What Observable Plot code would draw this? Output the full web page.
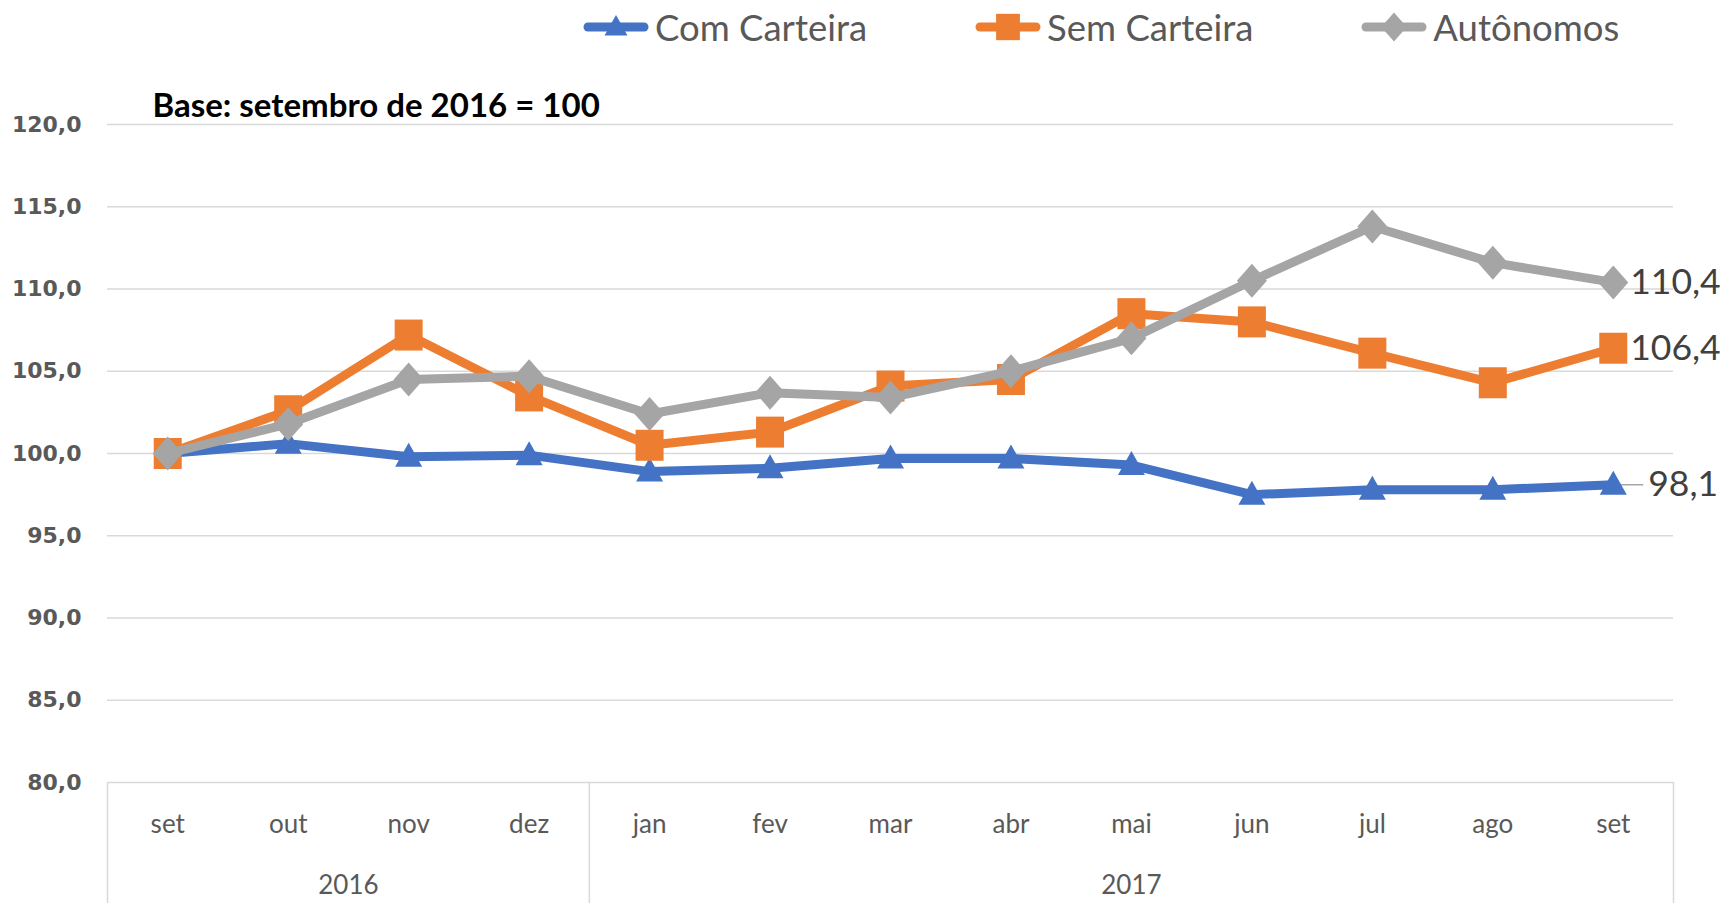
<!DOCTYPE html>
<html><head><meta charset="utf-8">
<script src="https://cdn.jsdelivr.net/npm/d3@7"></script>
<script src="https://cdn.jsdelivr.net/npm/@observablehq/plot@0.6"></script>
<style>
body{margin:0;background:#fff;font-family:Lato,sans-serif;}
#legend{height:54px;display:flex;align-items:center;gap:108px;padding-left:583px;box-sizing:border-box;}
.item{display:flex;align-items:center;gap:6px;font-size:36.5px;color:#595959;line-height:1;}
#chart svg{display:block;}
</style></head><body>
<div id="legend"></div>
<div id="chart"></div>
<script>
// ---- data ----
const months = ["set","out","nov","dez","jan","fev","mar","abr","mai","jun","jul","ago","set"];
const years  = ["2016","2016","2016","2016","2017","2017","2017","2017","2017","2017","2017","2017","2017"];
const seriesNames = ["Com Carteira","Sem Carteira","Autônomos"];
const comCarteira = [100.0,100.6,99.8,99.9,98.9,99.1,99.7,99.7,99.3,97.5,97.8,97.8,98.1];
const semCarteira = [100.0,102.6,107.2,103.5,100.5,101.3,104.1,104.5,108.5,108.0,106.1,104.3,106.4];
const autonomos   = [100.0,101.8,104.5,104.7,102.4,103.7,103.4,105.0,107.0,110.5,113.8,111.6,110.4];
const yTicks = [80,85,90,95,100,105,110,115,120];
const note = "Base: setembro de 2016 = 100";

// ---- styles ----
const seriesValues = [comCarteira, semCarteira, autonomos];
const colors = ["#4472C4","#ED7D31","#A5A5A5"];
const triangle = {draw(c){c.moveTo(0,-14);c.lineTo(13.5,10);c.lineTo(-13.5,10);c.closePath();}};
const square = {draw(c){c.rect(-14,-15.5,28,31);}};
const diamond = {draw(c){c.moveTo(0,-17);c.lineTo(15,0);c.lineTo(0,17);c.lineTo(-15,0);c.closePath();}};
const leader = {draw(c){c.moveTo(6,0);c.lineTo(30,0);}};
const symbols = [triangle, square, diamond];
const labelDx = [35, 17, 17];

const fmt = v => v.toFixed(1).replace(".", ",");

// legend
const legend = document.getElementById("legend");
seriesNames.forEach((name, k) => {
  const p = d3.path(); symbols[k].draw(p);
  const item = document.createElement("div");
  item.className = "item";
  item.innerHTML = `<svg width="66" height="36" viewBox="-33 -18 66 36"><line x1="-28" x2="28" y1="0" y2="0" stroke="${colors[k]}" stroke-width="9" stroke-linecap="round"/><path d="${p}" fill="${colors[k]}" transform="scale(0.85)"/></svg><span>${name}</span>`;
  legend.appendChild(item);
});

const data = seriesNames.flatMap((s, k) => seriesValues[k].map((v, i) => ({series: s, k, i, v})));
const n = months.length;

// year groups
const yearNames = [...new Set(years)];
const yearFirst = yearNames.map(y => years.indexOf(y));
const yearLast = yearNames.map(y => years.lastIndexOf(y));
const yearCenters = yearNames.map((y, j) => (yearFirst[j] + yearLast[j]) / 2);
const boundaries = [yearFirst[0] - 0.5, ...yearLast.map(l => l + 0.5)];

const marks = [
  Plot.gridY(yTicks, {stroke: "#d9d9d9", strokeOpacity: 1, strokeWidth: 1.5}),
  Plot.axisY(yTicks, {tickSize: 0, tickPadding: 26, tickFormat: fmt, fontSize: 22, fontWeight: "bold", fontFamily: "DejaVu Sans", fill: "#595959", label: null}),
  Plot.axisX(d3.range(n), {tickSize: 0, tickPadding: 32, tickFormat: i => months[i], fontSize: 26, fill: "#595959", label: null}),
  Plot.axisX(yearCenters, {tickSize: 0, tickPadding: 93, tickFormat: c => yearNames[yearCenters.indexOf(c)], fontSize: 26, fill: "#595959", label: null}),
  Plot.axisX(boundaries, {tickSize: 125, tickFormat: () => "", stroke: "#d9d9d9", strokeWidth: 1.5, label: null}),
  Plot.text([note], {frameAnchor: "top-left", dx: 45, dy: -18, lineAnchor: "middle", textAnchor: "start", fontSize: 33, fontWeight: "bold", fill: "#000"}),
];
seriesNames.forEach((s, k) => {
  const d = data.filter(e => e.k === k);
  const last = d.filter(e => e.i === n - 1);
  marks.push(Plot.line(d, {x: "i", y: "v", stroke: colors[k], strokeWidth: 9, strokeLinejoin: "round"}));
  if (k === 0) marks.push(Plot.dot(last, {x: "i", y: "v", symbol: leader, stroke: "#a6a6a6", strokeWidth: 1.5, fill: "none"}));
  marks.push(Plot.dot(d, {x: "i", y: "v", symbol: symbols[k], fill: colors[k], stroke: "none"}));
  marks.push(Plot.text(last, {x: "i", y: "v", text: e => fmt(e.v), dx: labelDx[k], textAnchor: "start", fontSize: 35.5, fill: "#404040"}));
});

const chart = Plot.plot({
  width: 1725, height: 849,
  marginLeft: 107, marginRight: 52, marginTop: 70, marginBottom: 121,
  x: {domain: [-0.5, n - 0.5]},
  y: {domain: [80, 120]},
  style: {background: "white", overflow: "visible", fontFamily: "Lato, sans-serif"},
  marks
});
document.getElementById("chart").appendChild(chart);
</script>
</body></html>
